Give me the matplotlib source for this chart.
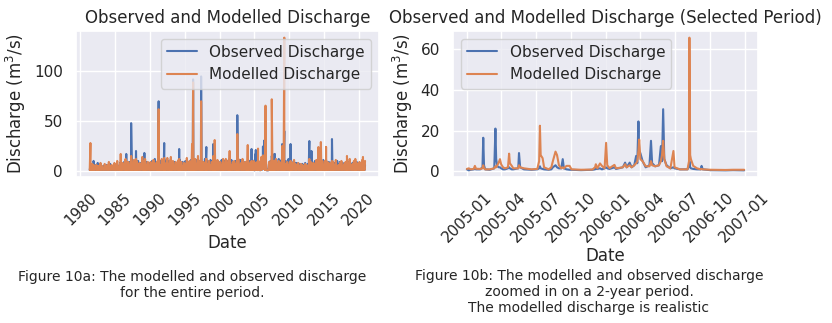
import pandas as pd
import matplotlib
matplotlib.use("Agg")
import matplotlib.pyplot as plt
import matplotlib.dates as mdates
import seaborn as sns

sns.set_theme(style="darkgrid")

# low-flow level between events (m3/s)
base_flow = 1.0

# large events over the whole record: decimal year, observed, modelled
peak_years = [1981.45, 1981.9, 1982.5, 1985.8, 1986.6, 1987.3, 1988.0, 1989.2,
              1991.25, 1992.05, 1993.0, 1994.2, 1996.05, 1996.2, 1997.35, 1998.1,
              1999.1, 1999.3, 2000.5, 2001.45, 2002.55, 2004.05, 2004.6, 2007.5,
              2007.9, 2009.0, 2009.3, 2010.2, 2012.9, 2013.2, 2014.2, 2014.55,
              2015.3, 2016.15, 2018.3, 2019.5, 2020.6]
peak_obs = [5, 10, 8, 8, 17, 48, 20, 18,
            70, 28, 12, 22, 10, 92, 95, 24,
            27, 12, 10, 12, 56, 10, 22, 15,
            17, 27, 40, 27, 30, 20, 10, 12,
            10, 32, 8, 8, 6]
peak_mod = [28, 6, 5, 17, 10, 15, 12, 10,
            62, 13, 14, 12, 27, 89, 70, 10,
            15, 31, 12, 20, 37, 26, 10, 72,
            10, 25, 134, 10, 12, 8, 24, 29,
            24, 10, 15, 12, 14]

# smaller events, five per year
minor_years = [y for y in range(1981, 2021) if y not in (2005, 2006)]
minor_slots = [0.1, 0.3, 0.5, 0.7, 0.9]
minor_mod = [
    [6, 4, 3, 7, 5], [4, 6, 3, 5, 8], [5, 3, 7, 4, 6], [9, 4, 6, 3, 8],
    [5, 10, 4, 7, 6], [8, 5, 12, 6, 9], [6, 9, 5, 11, 7], [10, 6, 8, 5, 14],
    [7, 12, 6, 9, 5], [9, 5, 11, 7, 8], [10, 7, 6, 12, 9], [8, 6, 13, 7, 10],
    [6, 10, 5, 9, 7], [11, 6, 9, 5, 8], [7, 13, 6, 10, 8], [9, 6, 12, 7, 15],
    [8, 11, 6, 9, 7], [12, 7, 10, 6, 9], [7, 9, 6, 11, 8], [9, 6, 10, 7, 12],
    [7, 11, 8, 6, 9], [10, 7, 9, 12, 6], [8, 12, 6, 9, 7], [11, 7, 9, 6, 10],
    [9, 6, 11, 8, 7], [12, 7, 10, 8, 9], [8, 11, 7, 9, 6], [9, 6, 8, 11, 7],
    [6, 8, 5, 7, 6], [5, 7, 6, 4, 8], [9, 6, 8, 7, 11], [8, 12, 7, 10, 6],
    [10, 7, 9, 6, 8], [7, 9, 6, 11, 5], [6, 8, 10, 5, 7], [9, 6, 7, 12, 5],
    [7, 10, 5, 8, 6], [9, 6, 11, 7, 10]]
minor_obs = [
    [4, 3, 6, 5, 4], [6, 4, 5, 3, 6], [3, 5, 4, 6, 4], [5, 7, 3, 5, 6],
    [4, 6, 5, 8, 5], [6, 9, 7, 5, 8], [9, 5, 8, 6, 10], [7, 10, 5, 8, 6],
    [10, 7, 9, 6, 8], [6, 10, 7, 12, 6], [8, 6, 10, 7, 9], [11, 8, 6, 10, 7],
    [7, 5, 9, 6, 8], [8, 11, 6, 9, 7], [10, 6, 9, 7, 11], [7, 10, 8, 11, 6],
    [10, 7, 9, 6, 12], [8, 10, 7, 11, 7], [9, 6, 10, 7, 9], [7, 11, 8, 10, 6],
    [10, 8, 6, 11, 7], [8, 10, 7, 9, 11], [11, 7, 9, 6, 8], [8, 10, 6, 11, 7],
    [7, 10, 8, 6, 9], [10, 8, 12, 7, 11], [9, 7, 10, 8, 12], [7, 10, 6, 9, 8],
    [8, 6, 7, 5, 7], [6, 8, 5, 7, 6], [7, 9, 6, 10, 8], [10, 7, 9, 8, 11],
    [8, 11, 7, 9, 6], [9, 6, 8, 7, 10], [7, 9, 6, 8, 6], [6, 8, 9, 7, 6],
    [8, 6, 7, 9, 5], [6, 8, 7, 9, 6]]

# 2005-2006 in more detail: days after 2005-01-01, observed, modelled
sel_days = [0, 5, 10, 18, 21, 24, 35, 41, 43, 45, 48, 60, 72, 75, 77, 80, 84, 87,
            90, 95, 100, 108, 111, 113, 118, 122, 135, 137, 140, 150, 170, 185,
            190, 192, 194, 199, 203, 215, 222, 226, 233, 237, 242, 248, 252, 255,
            262, 270, 275, 300, 330, 337, 339, 343, 350, 355, 362, 366, 369, 375,
            388, 392, 410, 416, 420, 428, 433, 440, 445, 448, 451, 453, 456, 462,
            470, 480, 484, 487, 495, 505, 510, 513, 516, 519, 525, 535, 543, 546,
            560, 580, 584, 585, 587, 589, 595, 605, 615, 617, 620, 640, 680, 700, 729]
sel_obs = [1.0, 0.5, 0.8, 1.0, 1.2, 1.0, 1.0, 2.0, 16.5, 3.0, 1.0, 0.8, 1.5, 21.0,
           6.0, 2.5, 2.0, 2.0, 1.5, 1.0, 1.0, 1.5, 2.0, 1.5, 1.0, 1.0, 1.5, 9.0,
           2.0, 1.0, 0.8, 1.0, 1.5, 2.5, 1.5, 1.2, 1.0, 0.8, 1.0, 2.0, 3.0, 2.0,
           1.5, 1.5, 6.0, 1.5, 1.0, 0.8, 0.8, 0.6, 0.8, 1.0, 1.5, 1.2, 1.5, 1.0,
           1.5, 2.0, 1.5, 1.2, 2.0, 1.2, 2.0, 4.3, 2.0, 4.3, 2.0, 3.0, 7.6, 4.0,
           24.5, 10.0, 9.0, 5.0, 2.0, 3.0, 15.0, 4.0, 2.5, 3.0, 12.4, 5.0, 30.5,
           6.0, 3.0, 1.5, 2.0, 1.5, 1.0, 1.0, 3.0, 5.0, 2.0, 1.5, 1.2, 1.0, 1.0,
           2.7, 1.0, 0.6, 0.5, 0.6, 0.5]
sel_mod = [1.2, 1.5, 1.0, 1.2, 2.7, 1.3, 1.2, 1.5, 3.0, 1.5, 1.0, 1.0, 1.5, 2.5,
           2.0, 3.0, 4.5, 6.0, 3.5, 2.0, 1.5, 2.0, 8.7, 4.0, 2.7, 1.5, 1.5, 3.0,
           2.0, 1.5, 1.0, 1.2, 5.0, 22.4, 8.0, 6.5, 2.0, 1.0, 2.0, 5.0, 9.7, 8.0,
           3.0, 1.5, 2.0, 1.5, 2.7, 2.7, 1.0, 0.8, 0.9, 2.0, 3.5, 1.5, 3.9, 2.7,
           1.5, 14.0, 3.0, 1.6, 3.2, 1.5, 2.0, 3.5, 2.0, 3.0, 2.0, 3.0, 4.0, 5.0,
           10.0, 15.6, 6.0, 5.0, 2.5, 2.5, 5.0, 3.0, 2.5, 3.0, 5.0, 8.0, 15.0,
           6.0, 2.5, 1.5, 10.0, 2.0, 1.0, 1.0, 5.0, 65.6, 8.0, 6.0, 2.7, 1.5, 1.0,
           1.2, 1.0, 0.8, 0.7, 0.8, 0.8]


def to_date(y):
    year = int(y)
    return pd.Timestamp(year=year, month=1, day=1) + pd.Timedelta(days=(y - year) * 365.25)


# gather all events outside the detailed window
events = list(zip(peak_years, peak_obs, peak_mod))
for y, mrow, orow in zip(minor_years, minor_mod, minor_obs):
    for s, m, o in zip(minor_slots, mrow, orow):
        events.append((y + s, o, m))
events = sorted(e for e in events if e[0] >= 1981.35)

# spikes drop back to base flow between events
rows = [(to_date(1981.35), base_flow, base_flow)]
for i, (t, o, m) in enumerate(events):
    rows.append((to_date(t), o, m))
    if i + 1 < len(events):
        rows.append((to_date((t + events[i + 1][0]) / 2), base_flow, base_flow))
rows.append((to_date(2020.85), base_flow, base_flow))

start_sel = pd.Timestamp("2005-01-01")
end_sel = pd.Timestamp("2006-12-31")
rows = [r for r in rows if r[0] < start_sel or r[0] > end_sel]
for d, o, m in zip(sel_days, sel_obs, sel_mod):
    rows.append((start_sel + pd.Timedelta(days=d), o, m))

df = pd.DataFrame(rows, columns=["date", "observed", "modelled"]).sort_values("date")
df = df.set_index("date")
sel = df.loc[start_sel:end_sel]

fig = plt.figure(figsize=(8.32, 3.23), dpi=100)
ax1 = fig.add_axes([0.0913, 0.452, 0.364, 0.452])
ax2 = fig.add_axes([0.5445, 0.452, 0.3666, 0.452])

for ax, d in ((ax1, df), (ax2, sel)):
    ax.plot(d.index, d["observed"], label="Observed Discharge", lw=1.5)
    ax.plot(d.index, d["modelled"], label="Modelled Discharge", lw=1.5)
    ax.set_ylabel("Discharge (m$^3$/s)", fontsize=12)
    ax.tick_params(labelsize=11)

ax1.set_xlabel("Date", fontsize=12)
ax2.set_xlabel("Date", fontsize=12, labelpad=1)

ax1.set_title("Observed and Modelled Discharge", fontsize=12)
ax1.xaxis.set_major_locator(mdates.YearLocator(5))
ax1.xaxis.set_major_formatter(mdates.DateFormatter("%Y"))
ax1.legend(loc="upper right", fontsize=11)

ax2.set_title("Observed and Modelled Discharge (Selected Period)", fontsize=12)
ax2.xaxis.set_major_locator(mdates.MonthLocator(bymonth=[1, 4, 7, 10]))
ax2.xaxis.set_major_formatter(mdates.DateFormatter("%Y-%m"))
ax2.legend(loc="upper left", fontsize=11)

for ax in (ax1, ax2):
    plt.setp(ax.get_xticklabels(), rotation=45)

fig.text(192 / 832, 1 - 270 / 323,
         "Figure 10a: The modelled and observed discharge\nfor the entire period.",
         ha="center", va="top", fontsize=10, multialignment="center")
fig.text(589 / 832, 1 - 269 / 323,
         "Figure 10b: The modelled and observed discharge\nzoomed in on a 2-year period.\n"
         "The modelled discharge is realistic",
         ha="center", va="top", fontsize=10, multialignment="center")

fig.savefig("out.png", dpi=100)
